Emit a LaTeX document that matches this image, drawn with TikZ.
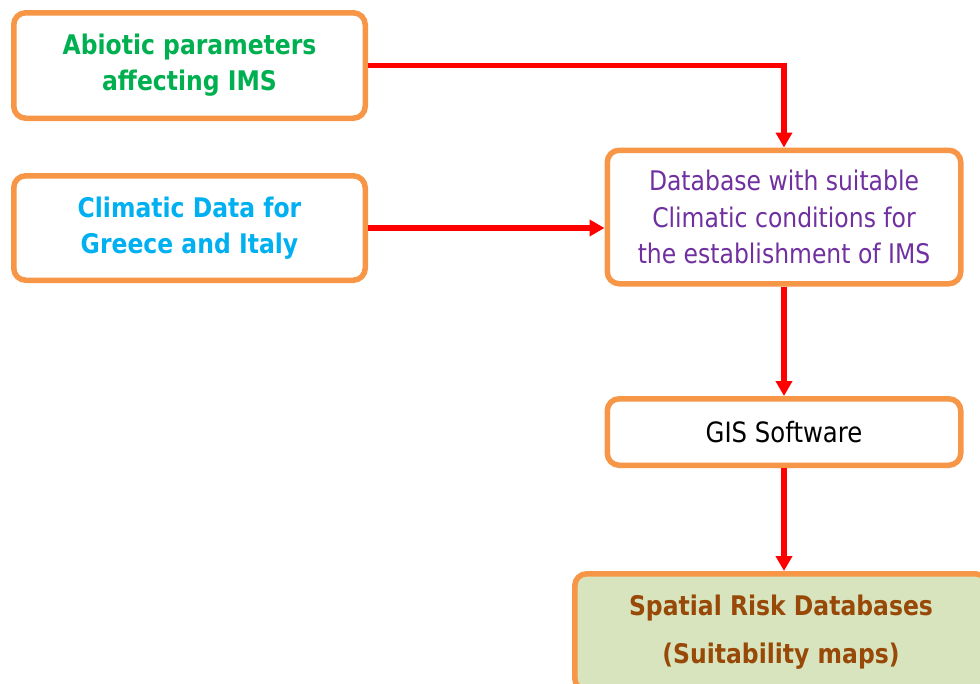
\documentclass[tikz,border=0pt]{standalone}
\usepackage{fontspec}
\setmainfont{DejaVu Sans}[FakeStretch=0.87]
\usetikzlibrary{arrows.meta,calc}
\definecolor{boxorange}{HTML}{F79646}
\definecolor{arrred}{HTML}{FF0000}
\definecolor{tgreen}{HTML}{00B050}
\definecolor{tblue}{HTML}{00B0F0}
\definecolor{tpurple}{HTML}{7030A0}
\definecolor{tbrown}{HTML}{984807}
\definecolor{lgreen}{HTML}{D7E4BD}
\tikzset{
  box/.style={draw=boxorange, line width=5.5pt, rounded corners=12pt, fill=white,
    inner sep=0pt, outer sep=2.75pt, align=center,
    font=\fontsize{27}{36}\selectfont},
  link/.style={draw=arrred, line width=5.5pt, -{Triangle[length=15pt,width=16pt]}}
}
\begin{document}
\begin{tikzpicture}[x=1pt,y=-1pt]
\useasboundingbox (0,0) rectangle (980,683);
\clip (0,0) rectangle (980,683);
\node[box, minimum width=351.5pt, minimum height=105.5pt, text=tgreen, font=\fontsize{27}{36}\selectfont\bfseries]
  (A) at (189.5,65.5) {Abiotic parameters\\affecting IMS};
\node[box, minimum width=351.5pt, minimum height=104.5pt, text=tblue, font=\fontsize{27}{36}\selectfont\bfseries]
  (B) at (189.5,228) {Climatic Data for\\Greece and Italy};
\node[box, minimum width=353.5pt, minimum height=133.5pt, text=tpurple, font=\fontsize{27}{36.5}\selectfont]
  (C) at (784,217) {Database with suitable\\Climatic conditions for\\the establishment of IMS};
\node[box, minimum width=353.5pt, minimum height=66.5pt, text=black, font=\fontsize{28}{32}\selectfont]
  (G) at (784,432) {GIS Software};
\node[box, fill=lgreen, minimum width=412.5pt, minimum height=116.5pt, text=tbrown, font=\fontsize{27}{36}\selectfont\bfseries]
  (S) at (781,632) {Spatial Risk Databases\\[12pt](Suitability maps)};
\draw[link] (A.east) -| (C.north);
\draw[link] (B.east) -- (B.east -| C.west);
\draw[link] (C.south) -- (G.north);
\draw[link] (G.south) -- (G.south |- S.north);
\end{tikzpicture}
\end{document}
